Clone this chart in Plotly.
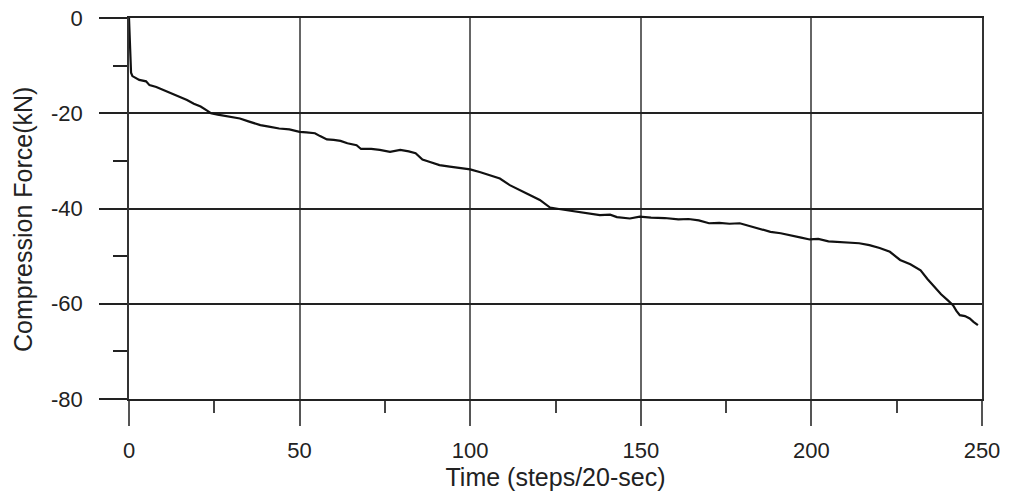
import plotly.graph_objects as go

time_steps = [0, 0.3, 0.6, 1, 3, 5, 6, 8, 9, 11, 12, 14, 17, 19, 21, 23, 24, 26, 28, 30,
              32.5, 35, 38.5, 41, 44, 47, 50, 52, 54.5, 56, 58, 60, 62, 64, 66.7, 68, 71,
              73.5, 76.5, 79.5, 82, 84, 86, 88, 91, 94, 97, 100, 103, 106, 108.7, 111.6,
              114, 117, 120.4, 123.4, 126, 129, 132, 135, 138, 141, 143, 146.8, 149.7, 153,
              157, 161, 164, 167, 170, 173, 176, 179, 182, 185, 188, 191, 194, 197, 199.5,
              202, 205, 208, 211, 214, 217, 220, 223, 226, 229, 232, 234, 236, 238, 240,
              241.5, 242.5, 243.5, 245, 246.4, 247.5, 248.8]
force_kn = [0, -5, -11.5, -12.2, -13.0, -13.3, -14.1, -14.5, -14.8, -15.4, -15.8, -16.3,
            -17.2, -18.0, -18.6, -19.5, -20.0, -20.3, -20.5, -20.7, -21.1, -21.7, -22.5,
            -22.8, -23.2, -23.4, -23.9, -24.0, -24.2, -24.8, -25.5, -25.6, -25.8, -26.3,
            -26.7, -27.5, -27.5, -27.7, -28.1, -27.7, -28.0, -28.4, -29.7, -30.2, -30.9,
            -31.2, -31.5, -31.8, -32.4, -33.0, -33.7, -35.1, -36.0, -37.0, -38.2, -39.8,
            -40.1, -40.4, -40.7, -41.0, -41.4, -41.3, -41.8, -42.1, -41.7, -41.9, -42.0,
            -42.3, -42.2, -42.5, -43.1, -43.0, -43.2, -43.1, -43.7, -44.3, -44.9, -45.2,
            -45.6, -46.1, -46.5, -46.4, -46.9, -47.0, -47.2, -47.3, -47.7, -48.3, -49.1,
            -50.8, -51.7, -53.0, -54.8, -56.5, -58.0, -59.3, -60.3, -61.5, -62.4, -62.6,
            -63.1, -63.8, -64.5]

x_ticks = [0, 50, 100, 150, 200, 250]
y_ticks = [0, -20, -40, -60, -80]

FONT = "Liberation Sans, Arial, sans-serif"

fig = go.Figure()
fig.add_trace(go.Scatter(x=time_steps, y=force_kn, mode="lines",
                         line=dict(color="#111111", width=2.2), showlegend=False,
                         hoverinfo="skip"))

fig.update_layout(
    width=1009, height=495,
    margin=dict(l=129, r=27, t=18, b=96, autoexpand=False),
    plot_bgcolor="white", paper_bgcolor="white",
    font=dict(family=FONT, size=22, color="#222222"),
    annotations=[dict(text="Compression Force(kN)", textangle=-90,
                      xref="paper", yref="paper", x=0, y=0.47,
                      xanchor="center", yanchor="middle", xshift=-106,
                      showarrow=False, font=dict(size=25, color="#222222"))],
)

fig.update_xaxes(
    range=[0, 250], tickvals=x_ticks, ticktext=[str(v) for v in x_ticks],
    showgrid=True, gridcolor="#666666", gridwidth=2,
    showline=True, linecolor="#222222", linewidth=1.5, mirror=True,
    ticks="outside", ticklen=25, tickwidth=2, tickcolor="#555555",
    ticklabelstandoff=6, automargin=False,
    minor=dict(tickvals=[25, 75, 125, 175, 225], ticks="outside", ticklen=12,
               tickwidth=1.5, tickcolor="#444444", showgrid=False),
    zeroline=False,
    title=dict(text="Time (steps/20-sec)", font=dict(size=25), standoff=4),
)
fig.update_yaxes(
    range=[-80, 0], tickvals=y_ticks, ticktext=[str(v) for v in y_ticks],
    showgrid=True, gridcolor="#222222", gridwidth=1.5,
    showline=True, linecolor="#333333", linewidth=1.5, mirror=True,
    ticks="outside", ticklen=28, tickwidth=1.5, tickcolor="#222222",
    ticklabelstandoff=12, automargin=False,
    minor=dict(tickvals=[-10, -30, -50, -70], ticks="outside", ticklen=14,
               tickwidth=1.5, tickcolor="#222222", showgrid=False),
    zeroline=False,
)

fig.write_html("out.html")
